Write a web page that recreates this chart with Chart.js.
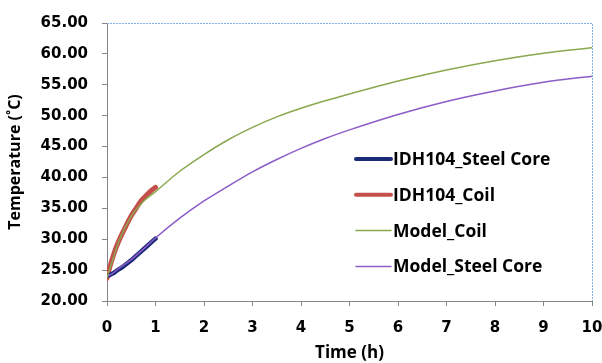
<!DOCTYPE html>
<html>
<head>
<meta charset="utf-8">
<script src="https://cdn.jsdelivr.net/npm/chart.js@4/dist/chart.umd.min.js"></script>
<style>
  html, body { margin: 0; padding: 0; background: #fff; }
  #wrap { width: 602px; height: 363px; }
</style>
</head>
<body>
<div id="wrap"><canvas id="chart" width="602" height="363"></canvas></div>
<script>
// measured data (time in hours, temperature in deg C)
const idhTime = [0, 0.05, 0.1, 0.15, 0.2, 0.3, 0.4, 0.5, 0.6, 0.7, 0.8, 0.9, 1.0];
const idhCore = [24.1, 24.2, 24.4, 24.6, 24.9, 25.4, 26.0, 26.6, 27.3, 28.0, 28.7, 29.4, 30.1];
const idhCoil = [23.7, 25.3, 26.6, 27.8, 28.9, 30.7, 32.3, 33.8, 35.0, 36.2, 37.0, 37.8, 38.4];

// model curves
const modelTime = [0, 0.1, 0.25, 0.5, 0.75, 1, 1.5, 2, 2.5, 3, 3.5, 4, 4.5, 5, 6, 7, 8, 9, 10];
const modelCoil = [23.8, 26.2, 29.8, 33.7, 36.1, 37.7, 41.0, 43.7, 46.1, 48.1, 49.8, 51.2, 52.4, 53.5, 55.6, 57.4, 58.9, 60.1, 61.0];
const modelCore = [24.0, 24.4, 25.3, 26.7, 28.4, 30.2, 33.4, 36.2, 38.6, 40.9, 42.9, 44.7, 46.3, 47.7, 50.2, 52.3, 54.0, 55.4, 56.4];

const xTicks = [0, 1, 2, 3, 4, 5, 6, 7, 8, 9, 10];
const yTicks = [20, 25, 30, 35, 40, 45, 50, 55, 60, 65];

const pts = (xs, ys) => xs.map((x, i) => ({ x: x, y: ys[i] }));

const tickFont = { family: "DejaVu Sans", size: 15, weight: "bold" };

// legend drawn inside the plot area, like the spreadsheet original
const innerLegend = {
  id: "innerLegend",
  afterDraw(chart) {
    const ctx = chart.ctx;
    const x0 = 356, x1 = 391, tx = 393;
    let y = 159;
    ctx.save();
    ctx.font = "bold 17.5px 'Open Sans'";
    ctx.textBaseline = "middle";
    chart.data.datasets.forEach(ds => {
      ctx.strokeStyle = ds.borderColor;
      ctx.lineWidth = ds.legendWidth;
      ctx.lineCap = "round";
      ctx.beginPath();
      ctx.moveTo(x0, y);
      ctx.lineTo(x1, y);
      ctx.stroke();
      ctx.fillStyle = "#000";
      ctx.fillText(ds.label, tx, y + 1);
      y += 35.8;
    });
    ctx.restore();
  }
};

// dotted top and right edges of the plot area
const plotFrame = {
  id: "plotFrame",
  beforeDatasetsDraw(chart) {
    const a = chart.chartArea;
    const ctx = chart.ctx;
    ctx.save();
    ctx.strokeStyle = "#86aee0";
    ctx.lineWidth = 1;
    ctx.setLineDash([2, 1]);
    ctx.beginPath();
    ctx.moveTo(a.left, a.top + 0.5);
    ctx.lineTo(a.right + 0.5, a.top + 0.5);
    ctx.lineTo(a.right + 0.5, a.bottom);
    ctx.stroke();
    ctx.restore();
  }
};

new Chart(document.getElementById("chart").getContext("2d"), {
  type: "line",
  data: {
    datasets: [{
      label: "IDH104_Steel Core",
      data: pts(idhTime, idhCore),
      borderColor: "#1b2a78",
      borderWidth: 4.5,
      legendWidth: 4,
      order: 2
    }, {
      label: "IDH104_Coil",
      data: pts(idhTime, idhCoil),
      borderColor: "#c4504c",
      borderWidth: 5,
      legendWidth: 4,
      order: 2
    }, {
      label: "Model_Coil",
      data: pts(modelTime, modelCoil),
      borderColor: "#8aa84e",
      borderWidth: 1.5,
      legendWidth: 1.5,
      order: 1
    }, {
      label: "Model_Steel Core",
      data: pts(modelTime, modelCore),
      borderColor: "#8c5cc8",
      borderWidth: 1.5,
      legendWidth: 1.5,
      order: 1
    }]
  },
  options: {
    responsive: false,
    animation: false,
    layout: { padding: { top: 19, right: 10, left: 0, bottom: 0 } },
    elements: {
      point: { radius: 0 },
      line: { cubicInterpolationMode: "monotone", borderCapStyle: "round", fill: false }
    },
    plugins: {
      legend: { display: false },
      tooltip: { enabled: false }
    },
    scales: {
      x: {
        type: "linear",
        min: 0,
        max: 10,
        afterBuildTicks: s => { s.ticks = xTicks.map(v => ({ value: v })); },
        afterFit: s => { s.height = 62; s.paddingRight = 0; s.paddingLeft = 0; },
        grid: { drawOnChartArea: false, color: "#868686", tickLength: 5 },
        border: { color: "#868686" },
        ticks: { font: tickFont, color: "#000", padding: 13, maxRotation: 0 },
        title: {
          display: true,
          text: "Time (h)",
          font: { family: "Open Sans", size: 17, weight: "bold" },
          color: "#000",
          padding: { top: 0, bottom: 0 }
        }
      },
      y: {
        min: 20,
        max: 65,
        afterBuildTicks: s => { s.ticks = yTicks.map(v => ({ value: v })); },
        afterFit: s => { s.width = 107; },
        grid: { drawOnChartArea: false, color: "#868686", tickLength: 5 },
        border: { color: "#868686" },
        ticks: {
          font: tickFont,
          color: "#000",
          padding: 14,
          callback: v => v.toFixed(2)
        },
        title: {
          display: true,
          text: "Temperature (˚C)",
          font: { family: "Open Sans", size: 16, weight: "bold" },
          color: "#000",
          padding: { top: 6, bottom: 0 }
        }
      }
    }
  },
  plugins: [plotFrame, innerLegend]
});
</script>
</body>
</html>
